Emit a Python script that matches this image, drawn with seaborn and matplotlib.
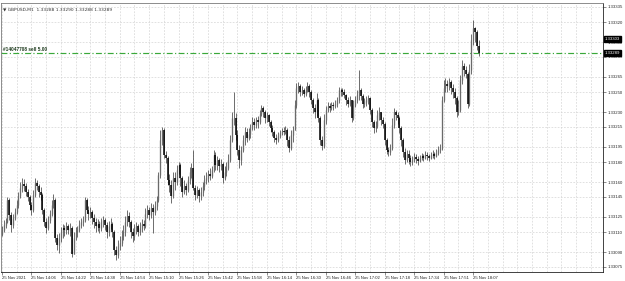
import matplotlib
matplotlib.use("Agg")
import matplotlib.pyplot as plt
import matplotlib.transforms as mtransforms
import numpy as np
import pandas as pd
import seaborn as sns

# ---- data (prices expressed in points above 1.33000) ----
BASE = 1.33
first_open = 108
closes = [
    112, 117, 120, 142, 127, 117, 124, 130, 137, 146,
    154, 158, 156, 150, 145, 137, 132, 147, 159, 156,
    150, 147, 132, 120, 114, 122, 128, 137, 142, 104,
    97, 104, 110, 114, 112, 116, 112, 114, 88, 104,
    110, 112, 117, 120, 122, 142, 132, 128, 130, 124,
    120, 116, 118, 114, 120, 122, 117, 110, 116, 118,
    110, 92, 87, 96, 99, 106, 110, 120, 126, 120,
    110, 106, 112, 116, 110, 114, 118, 116, 128, 132,
    127, 134, 130, 136, 142, 167, 202, 212, 187, 184,
    162, 157, 146, 164, 160, 172, 177, 164, 150, 156,
    152, 162, 170, 174, 154, 147, 152, 146, 150, 156,
    162, 164, 168, 166, 172, 187, 177, 182, 176, 178,
    164, 170, 174, 182, 202, 224, 224, 207, 192, 182,
    192, 202, 210, 204, 208, 214, 220, 217, 222, 220,
    228, 234, 230, 224, 227, 220, 214, 210, 204, 202,
    206, 209, 211, 210, 212, 202, 194, 207, 212, 237,
    254, 256, 250, 252, 248, 252, 256, 250, 242, 234,
    230, 242, 224, 202, 196, 222, 232, 236, 234, 237,
    236, 238, 242, 252, 252, 250, 247, 242, 238, 242,
    224, 237, 242, 247, 252, 246, 238, 240, 242, 244,
    232, 220, 214, 216, 227, 230, 222, 218, 202, 192,
    190, 194, 217, 230, 227, 224, 214, 202, 190, 182,
    188, 184, 180, 182, 185, 183, 181, 184, 186, 184,
    187, 186, 184, 187, 188, 186, 189, 192, 194, 242,
    254, 258, 256, 260, 254, 250, 244, 230, 232, 262,
    276, 272, 268, 238, 272, 302, 314, 310, 296, 289,
]
highs = [
    116, 122, 124, 145, 144, 130, 128, 134, 142, 150,
    160, 164, 163, 159, 153, 147, 140, 152, 164, 162,
    158, 155, 149, 134, 124, 126, 132, 142, 148, 144,
    108, 109, 115, 118, 117, 120, 118, 119, 116, 110,
    115, 116, 122, 124, 126, 145, 144, 136, 135, 132,
    128, 124, 123, 121, 124, 126, 124, 120, 121, 124,
    120, 112, 96, 102, 106, 112, 117, 126, 132, 130,
    122, 114, 118, 120, 118, 120, 123, 122, 134, 137,
    135, 139, 138, 141, 146, 170, 212, 215, 214, 191,
    186, 168, 162, 170, 170, 177, 180, 179, 166, 162,
    159, 166, 175, 179, 192, 157, 156, 154, 155, 160,
    167, 170, 172, 174, 176, 192, 190, 186, 184, 183,
    180, 176, 180, 188, 207, 230, 250, 229, 212, 197,
    196, 207, 215, 214, 214, 218, 225, 224, 225, 226,
    232, 237, 236, 232, 230, 228, 222, 217, 212, 208,
    210, 212, 214, 215, 216, 214, 206, 212, 216, 242,
    259, 260, 258, 256, 254, 256, 260, 258, 252, 244,
    238, 249, 244, 226, 206, 228, 236, 240, 239, 240,
    240, 242, 245, 255, 254, 254, 253, 248, 245, 246,
    242, 242, 246, 252, 272, 254, 248, 244, 246, 247,
    245, 234, 222, 221, 232, 235, 230, 225, 220, 204,
    195, 198, 224, 234, 232, 230, 226, 216, 204, 194,
    192, 192, 187, 186, 189, 188, 186, 187, 189, 188,
    191, 190, 188, 190, 192, 190, 193, 196, 198, 246,
    262, 264, 262, 264, 262, 258, 254, 246, 242, 267,
    282, 279, 276, 270, 278, 308, 322, 315, 312, 302,
]
lows = [
    106, 110, 114, 119, 122, 110, 114, 122, 128, 134,
    144, 150, 151, 146, 141, 132, 127, 130, 145, 152,
    145, 142, 128, 116, 109, 112, 119, 126, 134, 100,
    92, 89, 100, 104, 106, 108, 108, 106, 85, 88,
    102, 105, 110, 114, 116, 120, 129, 122, 124, 118,
    114, 110, 111, 109, 111, 115, 112, 104, 106, 113,
    105, 87, 82, 84, 92, 96, 102, 106, 116, 115,
    104, 100, 102, 108, 106, 107, 110, 112, 114, 124,
    122, 124, 109, 127, 132, 140, 164, 197, 184, 179,
    157, 150, 139, 144, 152, 157, 168, 156, 145, 148,
    147, 150, 158, 164, 152, 142, 144, 140, 142, 146,
    152, 158, 160, 162, 164, 170, 172, 172, 170, 172,
    159, 162, 166, 172, 180, 200, 217, 202, 187, 174,
    177, 190, 197, 200, 202, 204, 212, 212, 214, 214,
    218, 226, 225, 219, 220, 216, 210, 206, 200, 198,
    200, 204, 207, 207, 208, 196, 190, 192, 200, 212,
    234, 249, 246, 247, 245, 246, 250, 245, 238, 229,
    224, 226, 220, 197, 192, 194, 218, 230, 230, 232,
    232, 234, 235, 239, 246, 246, 244, 237, 235, 236,
    220, 222, 235, 239, 242, 242, 234, 235, 236, 238,
    228, 215, 209, 210, 214, 222, 217, 214, 197, 188,
    186, 187, 192, 214, 222, 218, 209, 196, 185, 178,
    180, 178, 176, 177, 180, 179, 177, 180, 182, 181,
    183, 182, 181, 183, 184, 183, 185, 187, 189, 192,
    240, 250, 250, 252, 248, 244, 238, 225, 227, 230,
    258, 266, 264, 234, 236, 268, 297, 300, 292, 286,
]
time_labels = [
    "25 Nov 2021", "25 Nov 14:06", "25 Nov 14:22", "25 Nov 14:38",
    "25 Nov 14:54", "25 Nov 15:10", "25 Nov 15:26", "25 Nov 15:42",
    "25 Nov 15:58", "25 Nov 16:14", "25 Nov 16:30", "25 Nov 16:46",
    "25 Nov 17:02", "25 Nov 17:18", "25 Nov 17:34", "25 Nov 17:51",
    "25 Nov 18:07",
]
ytick_values = [1.33075, 1.33090, 1.33110, 1.33125, 1.33145, 1.33160,
                1.33180, 1.33195, 1.33215, 1.33230, 1.33250, 1.33265,
                1.33285, 1.33300, 1.33320, 1.33335]
symbol_text = "\u25BC GBPUSD,M1  1.33288 1.33290 1.33288 1.33289"
order_text = "#14047708 sell 5.00"
order_price = 1.33289
bid_price = 1.33289
ask_price = 1.33303
label_step = 16
grid_step = 8

# ---- build table ----
opens = [first_open] + closes[:-1]
df = pd.DataFrame({
    "bar": np.arange(len(closes)),
    "open": BASE + np.array(opens) / 1e5,
    "high": BASE + np.array(highs) / 1e5,
    "low": BASE + np.array(lows) / 1e5,
    "close": BASE + np.array(closes) / 1e5,
})
df["top"] = df[["open", "high", "close"]].max(axis=1)
df["bot"] = df[["open", "low", "close"]].min(axis=1)
df["bull"] = df["close"] >= df["open"]

sns.set_theme(style="white")
plt.rcParams["font.family"] = ["Liberation Sans", "DejaVu Sans"]

fig = plt.figure(figsize=(6.25, 2.81), dpi=100)
ax = fig.add_axes([1 / 625, 1 - 272 / 281, 602 / 625, 269 / 281])
ax.set_facecolor("white")

# wicks
ax.vlines(df["bar"], df["bot"], df["top"], color="#333333", lw=0.5, zorder=3)
# bodies
b = df[df["bull"]]
s = df[~df["bull"]]
ax.vlines(b["bar"], b["open"], b["close"], color="#6a6a6a", lw=0.95, zorder=4)
ax.vlines(s["bar"], s["open"], s["close"], color="#000000", lw=1.1, zorder=4)

ax.set_xlim(-0.5, 326.6)
ax.set_ylim(1.33070, 1.33339)

# x axis
ax.set_xticks(np.arange(len(time_labels)) * label_step)
ax.set_xticklabels(time_labels, ha="left")
ax.set_xticks(np.arange(0, 327, grid_step), minor=True)
ax.tick_params(axis="x", which="major", labelsize=3.1, length=2, width=0.4,
               pad=0.8, color="#333333", direction="out", bottom=True)
ax.tick_params(axis="x", which="minor", length=0, bottom=False)

# y axis on right
ax.yaxis.tick_right()
ax.set_yticks(ytick_values)
ax.set_yticklabels([f"{v:.5f}" for v in ytick_values])
ax.tick_params(axis="y", labelsize=3.1, length=2, width=0.4, pad=1,
               color="#333333", direction="out", right=True, left=False)

ax.grid(False)
for xv in np.arange(0, 327, grid_step):
    ax.axvline(xv, color="#d4d4d4", lw=0.5, ls=(0, (2.5, 2)), zorder=1)
for yv in ytick_values:
    ax.axhline(yv, color="#d4d4d4", lw=0.5, ls=(0, (2.5, 2)), zorder=1)

for side, col in [("left", "#7a7a7a"), ("top", "#7a7a7a"),
                  ("right", "#222222"), ("bottom", "#222222")]:
    ax.spines[side].set_visible(True)
    ax.spines[side].set_color(col)
    ax.spines[side].set_linewidth(0.6)

# order line
ax.axhline(order_price, color="#3aa83a", lw=0.85, ls=(0, (5, 2, 1, 2)), zorder=2)
trans = mtransforms.blended_transform_factory(ax.transAxes, ax.transData)
ax.text(0.004, order_price + 0.000012, order_text, transform=trans,
        fontsize=3.4, fontweight="bold", color="#1d3a1d", va="bottom", ha="left")

# price boxes on the right axis
for p in (ask_price, bid_price):
    ax.text(1.003, p, f"{p:.5f}", transform=trans, fontsize=3.1, color="white",
            va="center", ha="left", zorder=10, clip_on=False,
            bbox=dict(boxstyle="square,pad=0.25", fc="black", ec="black"))

# symbol caption
ax.text(0.004, 0.985, symbol_text, transform=ax.transAxes, fontsize=3.2,
        color="#333333", va="top", ha="left",
        family=["DejaVu Sans"])

fig.savefig("out.png", dpi=100, facecolor="white")
